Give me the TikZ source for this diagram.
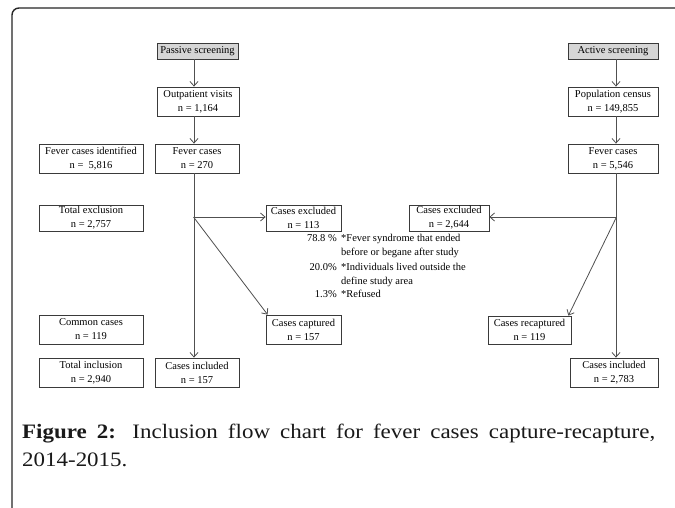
\documentclass[tikz,border=0pt]{standalone}
\usepackage{fontspec}
\setmainfont{Liberation Serif}
\newfontfamily\capfont[FakeStretch=1.12]{Liberation Serif}
\usetikzlibrary{arrows.meta}
\definecolor{boxc}{HTML}{3A3A3A}
\definecolor{arrc}{HTML}{505050}
\definecolor{hdr}{HTML}{D6D6D6}
\begin{document}
\begin{tikzpicture}[x=1pt,y=-1pt,
  box/.style={draw=boxc, line width=0.8pt, fill=white, inner sep=0pt, align=center,
    font=\fontsize{10.5}{14}\selectfont, text=black},
  hbox/.style={box, fill=hdr},
  arr/.style={draw=arrc, line width=0.8pt, -{Straight Barb[length=4.5pt,width=8pt]}},
  note/.style={font=\fontsize{10.5}{14}\selectfont, inner sep=0pt, text=black},
  captext/.style={anchor=base west, inner sep=0pt, font=\capfont\fontsize{20.5}{28}\selectfont, text=black!90}]
\useasboundingbox (0,0) rectangle (675,508);
\clip (0,0) rectangle (675,508);
\fill[white] (0,0) rectangle (675,508);
% outer frame
\draw[line width=1.4pt, rounded corners=7pt, black!85] (700,8) -- (12,8) -- (12,530);

% left column
\node[hbox, minimum width=81pt, minimum height=16pt] (pass) at (197.5,51) {Passive screening};
\node[box, minimum width=82pt, minimum height=29pt] (outp) at (198,101.5) {Outpatient visits\\n = 1,164};
\node[box, minimum width=84pt, minimum height=29pt] (fevL) at (197,158.5) {Fever cases\\n = 270};
\node[box, minimum width=104pt, minimum height=29pt] (fid) at (91,158.5) {Fever cases identified\\n =\ \ 5,816};
\node[box, minimum width=104pt, minimum height=26pt] (texc) at (91,218) {Total exclusion\\n = 2,757};
\node[box, minimum width=75pt, minimum height=26pt] (excL) at (303.5,218) {Cases excluded\\n = 113};
\node[box, minimum width=104pt, minimum height=29pt] (comm) at (91,329.5) {Common cases\\n = 119};
\node[box, minimum width=75pt, minimum height=29pt] (capt) at (303.5,329.5) {Cases captured\\n = 157};
\node[box, minimum width=104pt, minimum height=29pt] (tinc) at (91,372.5) {Total inclusion\\n = 2,940};
\node[box, minimum width=84pt, minimum height=29pt] (incL) at (197,372.5) {Cases included\\n = 157};

% right column
\node[hbox, minimum width=90pt, minimum height=16pt] (act) at (613,51) {Active screening};
\node[box, minimum width=90pt, minimum height=29pt] (pop) at (613,101.5) {Population census\\n = 149,855};
\node[box, minimum width=90pt, minimum height=29pt] (fevR) at (613,158.5) {Fever cases\\n = 5,546};
\node[box, minimum width=80pt, minimum height=26pt] (excR) at (449,218) {Cases excluded\\n = 2,644};
\node[box, minimum width=83pt, minimum height=28pt] (recap) at (529.5,330) {Cases recaptured\\n = 119};
\node[box, minimum width=88pt, minimum height=29pt] (incR) at (614,372.5) {Cases included\\n = 2,783};

% branch points
\coordinate (bL) at (194,217);
\coordinate (bR) at (616,217);

% left connectors
\draw[arr] (pass.south -| bL) -- (outp.north -| bL);
\draw[arr] (outp.south -| bL) -- (fevL.north -| bL);
\draw[arr] (fevL.south -| bL) -- (incL.north -| bL);
\draw[arr] (bL) -- (excL.west |- bL);
\draw[arr] ([xshift=-0.5pt]bL) -- ([xshift=2pt]capt.north west);

% right connectors
\draw[arr] (act.south -| bR) -- (pop.north -| bR);
\draw[arr] (pop.south -| bR) -- (fevR.north -| bR);
\draw[arr] (fevR.south -| bR) -- (incR.north -| bR);
\draw[arr] (bR) -- (excR.east |- bR);
\draw[arr] ([xshift=0.5pt]bR) -- ([xshift=-3pt]recap.north east);

% exclusion reasons
\node[note, anchor=base east] (p1) at (337,241.5) {78.8 \%};
\node[note, anchor=base west] (r1) at (341,241.5) {*Fever syndrome that ended};
\node[note, anchor=base west] (r1b) at (341,255.5) {before or begane after study};
\node[note, anchor=base east] (p2) at (337,270) {20.0\%};
\node[note, anchor=base west] (r2) at (341,270) {*Individuals lived outside the};
\node[note, anchor=base west] (r2b) at (341,284) {define study area};
\node[note, anchor=base east] (p3) at (337,297.5) {1.3\%};
\node[note, anchor=base west] (r3) at (341,297.5) {*Refused};

% caption
\node[captext] (cap1) at (22,438)
  {\makebox[633pt][s]{\textbf{Figure 2:} Inclusion flow chart for fever cases capture-recapture,}};
\node[captext] (cap2) at (22,466) {2014-2015.};
\end{tikzpicture}
\end{document}
